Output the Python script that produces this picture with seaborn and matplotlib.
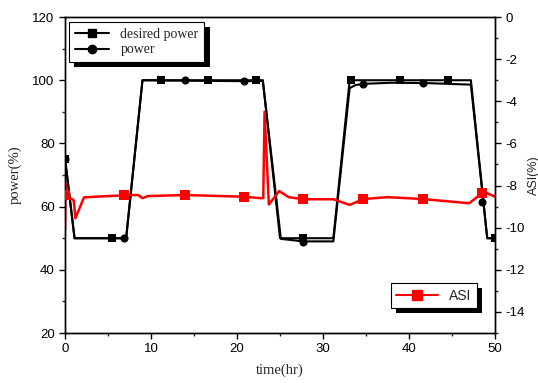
import numpy as np
import pandas as pd
import seaborn as sns
import matplotlib.pyplot as plt
from matplotlib.lines import Line2D
from matplotlib.patches import Rectangle
from matplotlib.ticker import MultipleLocator

# desired power (%) vs time (hr)
desired_t = [0, 1.1, 7.1, 9.0, 23.0, 25.0, 31.2, 33.1, 47.2, 49.1, 50]
desired_v = [75, 50, 50, 100, 100, 50, 50, 100, 100, 50, 50]
desired_mark_t = [0, 5.5, 11.1, 16.6, 22.2, 27.7, 33.3, 38.9, 44.5, 50]
desired_mark_v = [75, 50, 100, 100, 100, 50, 100, 100, 100, 50]

# actual power (%)
power_t = [0, 1.1, 7.1, 9.0, 20.8, 23.0, 25.1, 27.7, 31.2, 33.1, 33.8, 35.0, 38.0, 42.0, 47.2, 49.1, 50]
power_v = [75, 50, 50, 100, 99.7, 99.8, 49.8, 49.0, 49.0, 97.5, 98.5, 98.9, 99.2, 99.1, 98.6, 50, 50]
power_mark_t = [0, 6.9, 13.9, 20.8, 27.7, 34.7, 41.6, 48.5]
power_mark_v = [75, 50, 100, 99.7, 48.8, 98.8, 99.2, 61.5]

# axial shape index (%)
asi_t = [0, 0.05, 0.1, 1.0, 1.2, 2.2, 5.0, 7.5, 8.5, 9.0, 9.6, 14.0, 20.8, 22.8, 23.05,
         23.2, 23.7, 24.9, 26.0, 27.7, 31.2, 33.1, 34.7, 37.5, 41.6, 47.0, 48.7, 50]
asi_v = [-10.1, -7.9, -8.45, -8.7, -9.55, -8.56, -8.5, -8.45, -8.45, -8.6, -8.5, -8.45, -8.53,
         -8.6, -8.6, -4.5, -8.9, -8.26, -8.55, -8.65, -8.65, -8.92, -8.64, -8.55, -8.64,
         -8.84, -8.29, -8.53]
asi_mark_t = [0, 6.9, 13.9, 20.8, 27.7, 34.7, 41.6, 48.5]
asi_mark_v = [-8.45, -8.45, -8.45, -8.53, -8.65, -8.64, -8.64, -8.34]

sns.set_style('ticks')
plt.rcParams['font.family'] = ['Liberation Sans', 'DejaVu Sans']
plt.rcParams['axes.linewidth'] = 1.0
plt.rcParams['axes.unicode_minus'] = False

fig = plt.figure(figsize=(5.38, 3.83), dpi=100)
ax = fig.add_axes([0.121, 0.1305, 0.799, 0.825])
ax2 = ax.twinx()

sns.lineplot(x=desired_t, y=desired_v, ax=ax, color='black', lw=1.5, sort=False, estimator=None)
sns.lineplot(x=power_t, y=power_v, ax=ax, color='black', lw=1.5, sort=False, estimator=None)
sns.scatterplot(x=desired_mark_t, y=desired_mark_v, ax=ax, color='black', marker='s', s=34,
                linewidth=0, zorder=3)
sns.scatterplot(x=power_mark_t, y=power_mark_v, ax=ax, color='black', marker='o', s=34,
                linewidth=0, zorder=3)

sns.lineplot(x=asi_t, y=asi_v, ax=ax2, color='red', lw=1.8, sort=False, estimator=None)
sns.scatterplot(x=asi_mark_t, y=asi_mark_v, ax=ax2, color='red', marker='s', s=50,
                linewidth=0, zorder=3)

ax.set_xlim(0, 50)
ax.set_ylim(20, 120)
ax2.set_ylim(-15, 0)
ax.xaxis.set_major_locator(MultipleLocator(10))
ax.xaxis.set_minor_locator(MultipleLocator(5))
ax.yaxis.set_major_locator(MultipleLocator(20))
ax.yaxis.set_minor_locator(MultipleLocator(10))
ax2.yaxis.set_major_locator(MultipleLocator(2))
ax2.yaxis.set_minor_locator(MultipleLocator(1))

for a in (ax, ax2):
    a.tick_params(which='major', direction='out', length=4, width=1, labelsize=9.5, colors='black')
    a.tick_params(which='minor', direction='out', length=2.5, width=1)
    for sp in a.spines.values():
        sp.set_visible(True)
        sp.set_color('black')
        sp.set_linewidth(1.0)
ax.tick_params(axis='x', which='both', top=False)
ax.tick_params(axis='y', which='both', right=False)

ax.set_xlabel('time(hr)', family='Liberation Serif', fontsize=10.5, labelpad=6)
ax.set_ylabel('power(%)', family='Liberation Serif', fontsize=10.5, labelpad=8)
ax2.set_ylabel('ASI(%)', fontsize=9, labelpad=2)

h1 = [Line2D([], [], color='black', lw=1.5, marker='s', ms=6),
      Line2D([], [], color='black', lw=1.5, marker='o', ms=6)]
leg1 = ax.legend(h1, ['desired power', 'power'], loc='upper left', bbox_to_anchor=(0.009, 0.984),
                 borderaxespad=0, fancybox=False, edgecolor='black', framealpha=1,
                 prop={'family': 'Liberation Serif', 'size': 10}, handlelength=2.5,
                 labelspacing=0.2, borderpad=0.4)
leg1.get_frame().set_linewidth(0.8)

h2 = [Line2D([], [], color='red', lw=1.5, marker='s', ms=7)]
leg2 = ax2.legend(h2, ['ASI'], loc='lower right', bbox_to_anchor=(0.958, 0.079),
                  borderaxespad=0, fancybox=False, edgecolor='black', framealpha=1,
                  prop={'size': 10}, handlelength=3.0, borderpad=0.4)
leg2.get_frame().set_linewidth(0.8)

# solid black drop shadows behind the legend boxes
fig.canvas.draw()
for a, leg in ((ax, leg1), (ax2, leg2)):
    bb = leg.get_frame().get_window_extent().transformed(a.transAxes.inverted())
    dx, dy = 5.5 / 430, 5 / 316
    a.add_patch(Rectangle((bb.x0 + dx, bb.y0 - dy), bb.width, bb.height, transform=a.transAxes,
                          facecolor='black', edgecolor='none', zorder=4.9, clip_on=False))

fig.savefig('out.png', dpi=100, facecolor='white')
